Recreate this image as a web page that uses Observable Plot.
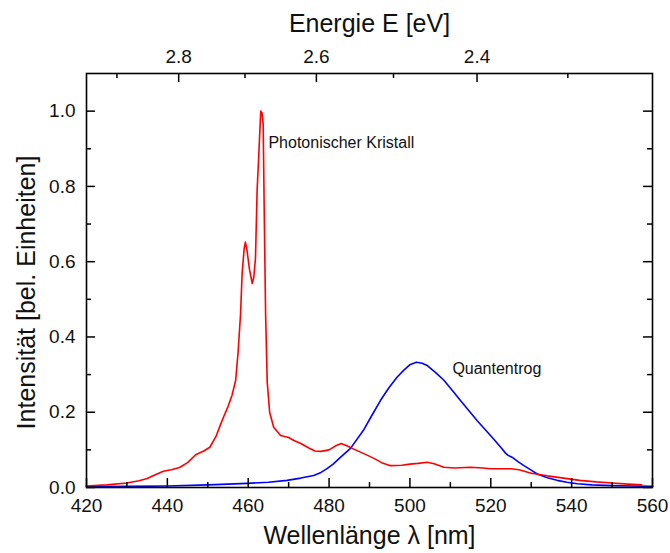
<!DOCTYPE html>
<html><head><meta charset="utf-8">
<script src="https://cdn.jsdelivr.net/npm/d3@7"></script>
<script src="https://cdn.jsdelivr.net/npm/@observablehq/plot@0.6"></script>
<style>body{margin:0;background:#fff} svg{font-family:"Liberation Sans",Arial,sans-serif}</style>
</head><body><div id="chart"></div>
<script>
// Photonischer Kristall (red)
const redWavelength = [420,425,430,433,435,437,439,441,443,445,447,449,450.5,452,453,454,455,456,456.9,457.5,458.1,458.5,459,459.3,459.7,460.3,461,461.4,461.8,462.2,462.6,463.1,463.4,463.7,464,464.3,464.7,465.3,466.3,468,470,471.3,473,475,476.5,478,480,481.5,483,484.5,486.5,488.6,491,493,495.2,498,500,502,504.3,506,508.4,511,515,518,520,525,527,530,534,538,542,546,550,554,557.3];
const redIntensity = [0.004,0.007,0.012,0.018,0.024,0.034,0.043,0.047,0.053,0.066,0.087,0.097,0.107,0.135,0.163,0.19,0.215,0.245,0.285,0.36,0.46,0.57,0.635,0.652,0.63,0.58,0.542,0.56,0.61,0.79,0.88,1.0,0.995,0.967,0.7,0.46,0.28,0.2,0.16,0.138,0.133,0.125,0.117,0.105,0.097,0.096,0.1,0.11,0.117,0.11,0.1,0.09,0.078,0.066,0.058,0.059,0.062,0.064,0.067,0.063,0.054,0.052,0.054,0.052,0.05,0.05,0.047,0.038,0.031,0.025,0.019,0.015,0.012,0.009,0.007];
// Quantentrog (blue)
const blueWavelength = [420,430,440,450,455,459.7,465,469.6,473,476.2,478,479.5,481,482.8,485.3,488.5,490.5,492.7,494.8,496.8,498.5,500.1,501.6,503,504.3,506.3,508.4,510.5,512.5,514.6,516.6,518.7,520.7,522.5,523.6,524.2,525.5,526.8,528.2,530,531.5,534,536.4,538.8,541.4,545,550,555,560];
const blueIntensity = [0.002,0.003,0.004,0.007,0.009,0.011,0.014,0.019,0.025,0.032,0.04,0.05,0.062,0.08,0.104,0.152,0.19,0.231,0.265,0.293,0.312,0.327,0.333,0.33,0.324,0.306,0.285,0.258,0.231,0.204,0.178,0.153,0.129,0.106,0.092,0.086,0.079,0.068,0.058,0.046,0.036,0.026,0.019,0.014,0.01,0.007,0.005,0.004,0.003];

const xTicks = [420,440,460,480,500,520,540,560];
const xMinorTicks = [430,450,470,490,510,530,550];
const yTicks = [0,0.2,0.4,0.6,0.8,1.0];
const yMinorTicks = [0.1,0.3,0.5,0.7,0.9];
const energyTicks = [2.8,2.6,2.4];
const energyMinorTicks = [2.9,2.7,2.5,2.3];
const labelTexts = ["Photonischer Kristall","Quantentrog"];
const labelWavelength = [465,510.5];
const labelIntensity = [0.915,0.314];
const HC = 1239.84; // eV·nm

const W = 670, H = 553, mt = 73, mb = 66, ml = 86, mr = 18;
const ph = H - mt - mb, pw = W - ml - mr;
const major = 9, minor = 5;

const red = redWavelength.map((l, i) => ({l, v: redIntensity[i]}));
const blue = blueWavelength.map((l, i) => ({l, v: blueIntensity[i]}));
const labels = labelTexts.map((t, i) => ({t, l: labelWavelength[i], v: labelIntensity[i]}));
const eMajor = energyTicks.map(e => HC / e);
const eMinor = energyMinorTicks.map(e => HC / e);

const font = "Liberation Sans, Arial, sans-serif";
const chart = Plot.plot({
  width: W, height: H,
  marginTop: mt, marginBottom: mb, marginLeft: ml, marginRight: mr,
  style: {fontFamily: font, background: "#fff", color: "#000"},
  x: {domain: [420, 560]},
  y: {domain: [0, 1.1]},
  marks: [
    Plot.line(blue, {x: "l", y: "v", stroke: "#0000ff", strokeWidth: 1.6}),
    Plot.line(red, {x: "l", y: "v", stroke: "#ff0000", strokeWidth: 1.6}),
    // inward ticks
    Plot.tickX(xTicks, {x: d => d, insetTop: ph - major, stroke: "#000", strokeWidth: 1.5}),
    Plot.tickX(xMinorTicks, {x: d => d, insetTop: ph - minor, stroke: "#000", strokeWidth: 1.5}),
    Plot.tickX(eMajor, {x: d => d, insetBottom: ph - major, stroke: "#000", strokeWidth: 1.5}),
    Plot.tickX(eMinor, {x: d => d, insetBottom: ph - minor, stroke: "#000", strokeWidth: 1.5}),
    Plot.tickY(yTicks, {y: d => d, insetRight: pw - major, stroke: "#000", strokeWidth: 1.5}),
    Plot.tickY(yMinorTicks, {y: d => d, insetRight: pw - minor, stroke: "#000", strokeWidth: 1.5}),
    Plot.tickY(yTicks, {y: d => d, insetLeft: pw - major, stroke: "#000", strokeWidth: 1.5}),
    Plot.tickY(yMinorTicks, {y: d => d, insetLeft: pw - minor, stroke: "#000", strokeWidth: 1.5}),
    Plot.frame({stroke: "#000", strokeWidth: 1.6}),
    Plot.axisX({anchor: "bottom", ticks: xTicks, tickSize: 0, tickPadding: 11, fontSize: 19, label: null, fill: "#111"}),
    Plot.axisX({anchor: "top", ticks: eMajor, tickFormat: d => (HC / d).toFixed(1), tickSize: 0, tickPadding: 11, fontSize: 19, label: null, fill: "#111"}),
    Plot.axisY({anchor: "left", ticks: yTicks, tickFormat: d => d.toFixed(1), tickSize: 0, tickPadding: 11, fontSize: 19, label: null, fill: "#111"}),
    Plot.text(["Wellenlänge λ [nm]"], {text: d => d, frameAnchor: "bottom", textAnchor: "middle", dy: 56, fontSize: 25, fill: "#111"}),
    Plot.text(["Energie E [eV]"], {text: d => d, frameAnchor: "top", textAnchor: "middle", dy: -59, fontSize: 25, fill: "#111"}),
    Plot.text(["Intensität [bel. Einheiten]"], {text: d => d, frameAnchor: "left", textAnchor: "middle", dx: -60, dy: 12, rotate: -90, fontSize: 25, fill: "#111"}),
    Plot.text(labels, {x: "l", y: "v", text: "t", textAnchor: "start", fontSize: 16, fill: "#111"})
  ]
});
document.getElementById("chart").append(chart);
</script></body></html>
